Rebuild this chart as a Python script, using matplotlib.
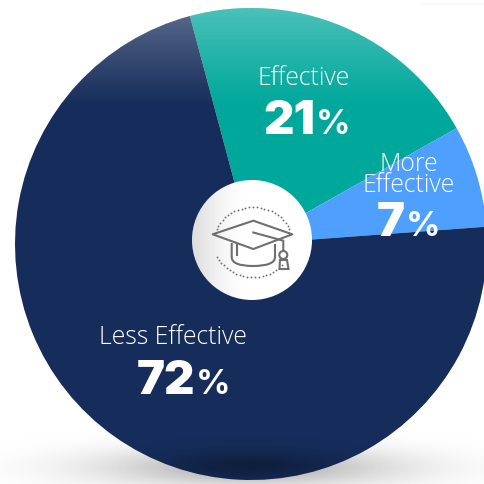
import numpy as np
import matplotlib
matplotlib.use("Agg")
import matplotlib.pyplot as plt
from matplotlib.patches import Circle, Polygon, PathPatch
from matplotlib.path import Path
from matplotlib.colors import LinearSegmentedColormap

# Survey shares, clockwise from the top-left slice
categories = ["Effective", "More\nEffective", "Less Effective"]
shares = [21, 7, 72]
colors = ["#00a79b", "#4f9fff", "#162d5b"]

W, H = 484, 484
cx, cy, radius = 251, H - 244, 236

fig = plt.figure(figsize=(W / 100, H / 100), dpi=100, facecolor="white")
ax = fig.add_axes([0, 0, 1, 1])

# Soft ground shadow beneath the disc
xx, yy = np.meshgrid(np.arange(W), np.arange(H))
ground = 0.30 * np.exp(-((xx - 250) / 150.0) ** 2 - ((yy - 16) / 20.0) ** 2)
black_fade = LinearSegmentedColormap.from_list(
    "black_fade", [(0, 0, 0, 0), (0, 0, 0, 1)])
ax.imshow(ground, origin="lower", extent=(0, W, 0, H), cmap=black_fade,
          vmin=0, vmax=1, zorder=0, interpolation="bilinear", aspect="auto")

wedges, _ = ax.pie(shares, colors=colors, startangle=105, counterclock=False,
                   center=(cx, cy), radius=radius, frame=True,
                   wedgeprops=dict(linewidth=0), normalize=True)
for w in wedges:
    w.set_zorder(1)

disc_clip = Circle((cx, cy), radius, transform=ax.transData)

# Light sheen at the top of the disc
sheen = np.clip((yy - (H - 108)) / 100.0, 0, 1) ** 1.1 * 0.30
white_fade = LinearSegmentedColormap.from_list(
    "white_fade", [(1, 1, 1, 0), (1, 1, 1, 1)])
im = ax.imshow(sheen, origin="lower", extent=(0, W, 0, H), cmap=white_fade,
               vmin=0, vmax=1, zorder=2, interpolation="bilinear", aspect="auto")
im.set_clip_path(disc_clip)

# Darkening along the bottom rim of the disc
rim = 0.32 * np.exp(-((xx - 250) / 85.0) ** 2 - ((yy - 18) / 14.0) ** 2)
im2 = ax.imshow(rim, origin="lower", extent=(0, W, 0, H), cmap=black_fade,
                vmin=0, vmax=1, zorder=2, interpolation="bilinear", aspect="auto")
disc_clip2 = Circle((cx, cy), radius, transform=ax.transData)
im2.set_clip_path(disc_clip2)

# Centre badge with a slight grey falloff on its left side
bx, by, br = 252, H - 240, 60
badge = np.clip(1 - (xx - (bx - br)) / 55.0, 0, 1) ** 1.5 * 0.14
ax.add_patch(Circle((bx, by), br, fc="white", ec="none", zorder=3))
im3 = ax.imshow(badge, origin="lower", extent=(0, W, 0, H), cmap=black_fade,
                vmin=0, vmax=1, zorder=4, interpolation="bilinear", aspect="auto")
im3.set_clip_path(Circle((bx, by), br, transform=ax.transData))


def P(x, y):
    return (x, H - y)


icon = "#6f6f6f"
lw = 1.5
# Mortarboard
ax.add_patch(Polygon([P(212.7, 234.3), P(253.3, 220.7), P(292.3, 234.3), P(253.3, 249)],
                     closed=True, fc="none", ec=icon, lw=lw, zorder=5, joinstyle="round"))
# Cord and tassel
ax.plot(*zip(P(253.3, 232.5), P(283.3, 240.7), P(283.3, 250)), color=icon, lw=lw, zorder=5)
ax.add_patch(Circle(P(283.3, 255), 4, fc="none", ec=icon, lw=lw, zorder=5))
ax.add_patch(Polygon([P(280, 260), P(287, 260), P(288.5, 269), P(279.5, 269)],
                     closed=True, fc="none", ec=icon, lw=lw, zorder=5))
# Cap body
body = Path([P(231.7, 243), P(231.7, 257), P(231.7, 266), P(253, 266), P(275, 266),
             P(275, 257), P(275, 244)],
            [Path.MOVETO, Path.LINETO, Path.CURVE3, Path.CURVE3, Path.CURVE3,
             Path.CURVE3, Path.LINETO])
ax.add_patch(PathPatch(body, fc="none", ec=icon, lw=lw, zorder=5))
ax.plot(*zip(P(236.7, 245), P(236.7, 255)), color=icon, lw=lw, zorder=5)
# Dotted halo around the cap
t = np.radians(np.linspace(22, 158, 25))
ax.scatter(253 + 35 * np.cos(t) * 1.12, H - 242 + 35 * np.sin(t), s=1.8, color=icon, lw=0, zorder=5)
t = np.radians(np.linspace(205, 318, 21))
ax.scatter(253 + 35 * np.cos(t) * 1.12, H - 242 + 35 * np.sin(t), s=1.8, color=icon, lw=0, zorder=5)

# Slice labels
light = dict(family="Open Sans", weight="light", color="white", zorder=6)
heavy = dict(family="Inter", weight="black", color="white", zorder=6)
medium = dict(family="Inter", weight="bold", color="white", zorder=6)


def value_label(x, y, value, size):
    ax.text(x, H - y, str(value), ha="right", va="baseline", fontsize=size, **heavy)
    ax.text(x + 1, H - y, "%", ha="left", va="baseline", fontsize=size * 0.72, **medium)


ax.text(304, H - 85, categories[0], ha="center", va="baseline", fontsize=17.8, **light)
value_label(315, 134, shares[0], 34)
ax.text(409, H - 192, categories[1], ha="center", va="baseline", fontsize=17.8,
        linespacing=0.78, **light)
value_label(405, 236, shares[1], 34)
ax.text(173, H - 344, categories[2], ha="center", va="baseline", fontsize=17.8, **light)
value_label(195, 394, shares[2], 34)

# Faint strip in the top-right corner
ax.plot([420, 484], [H - 4, H - 4], color="#f8f8f8", lw=1.2, zorder=0)

ax.set_xlim(0, W)
ax.set_ylim(0, H)
ax.set_aspect("auto")
ax.axis("off")
fig.savefig("out.png", dpi=100, facecolor="white")
